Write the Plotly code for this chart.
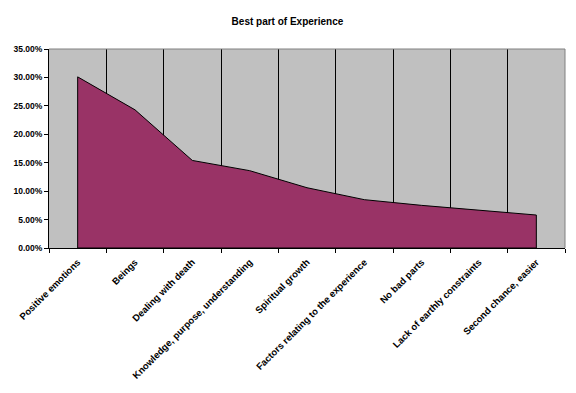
import plotly.graph_objects as go

categories = [
    "Positive emotions",
    "Beings",
    "Dealing with death",
    "Knowledge, purpose, understanding",
    "Spiritual growth",
    "Factors relating to the experience",
    "No bad parts",
    "Lack of earthly constraints",
    "Second chance, easier",
]
values = [0.301, 0.243, 0.154, 0.136, 0.106, 0.085, 0.075, 0.066, 0.058]
title_text = "Best part of Experience"

FONT = "Liberation Sans, Arial, sans-serif"

# closed polygon so the area has vertical edges at both ends
xs = categories + [categories[-1], categories[0], categories[0]]
ys = values + [0, 0, values[0]]

fig = go.Figure()
fig.add_trace(go.Scatter(
    x=xs, y=ys, mode="lines", fill="toself",
    fillcolor="#993366", line=dict(color="black", width=1),
    hoverinfo="skip", showlegend=False,
))

# page body has an 8px margin, so the figure is offset by 8px
fig.update_layout(
    width=568, height=385,
    margin=dict(l=41, r=11, t=41, b=145),
    paper_bgcolor="white", plot_bgcolor="#C0C0C0",
    title=dict(text=title_text, x=0.492, xanchor="center", yref="container",
               y=0.966, yanchor="middle",
               font=dict(family=FONT, size=10, color="black", weight="bold")),
    showlegend=False,
)
fig.update_xaxes(
    type="category", categoryorder="array", categoryarray=categories,
    range=[-0.5, 8.5], tickson="boundaries", automargin=False,
    showgrid=True, gridcolor="black", gridwidth=1,
    showline=True, linecolor="black", linewidth=1,
    ticks="outside", ticklen=4, tickcolor="black",
    tickangle=-45, ticklabelstandoff=4,
    tickfont=dict(family=FONT, size=9.5, color="black", weight="bold"),
    zeroline=False,
)
fig.update_yaxes(
    range=[0, 0.35], dtick=0.05, tickformat=".2%", automargin=False,
    showgrid=False, zeroline=False,
    showline=True, linecolor="black", linewidth=1,
    ticks="outside", ticklen=4, tickcolor="black",
    tickfont=dict(family=FONT, size=8.5, color="black", weight="bold"),
)
# gray border on top and right of plot area
fig.add_shape(type="line", xref="paper", yref="paper", x0=0, x1=1, y0=1, y1=1,
              line=dict(color="#808080", width=1))
fig.add_shape(type="line", xref="paper", yref="paper", x0=1, x1=1, y0=0, y1=1,
              line=dict(color="#808080", width=1))

fig.write_html("out.html")
